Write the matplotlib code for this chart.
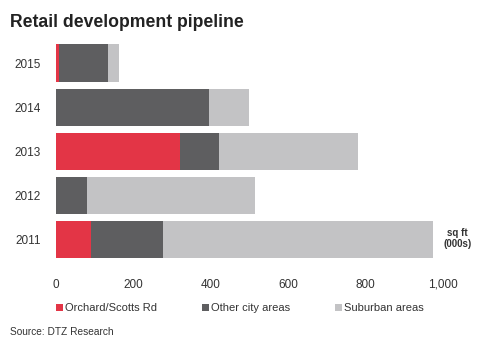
import matplotlib
matplotlib.use("Agg")
import matplotlib.pyplot as plt
from matplotlib.patches import Patch
from matplotlib import font_manager

# Retail development pipeline, thousands of sq ft
years = ["2011", "2012", "2013", "2014", "2015"]
orchard = [90, 0, 320, 0, 8]
other_city = [186, 81, 101, 394, 126]
suburban = [697, 432, 360, 105, 30]
series_names = ["Orchard/Scotts Rd", "Other city areas", "Suburban areas"]
x_ticks = [0, 200, 400, 600, 800, 1000]
x_tick_labels = ["0", "200", "400", "600", "800", "1,000"]

names = {f.name for f in font_manager.fontManager.ttflist}
base = "Liberation Sans" if "Liberation Sans" in names else "DejaVu Sans"
plt.rcParams["font.family"] = [base, "DejaVu Sans"]

colors = ["#e33546", "#5e5e60", "#c3c3c5"]
text_color = "#333333"

fig = plt.figure(figsize=(4.8, 3.38), dpi=100)
ax = fig.add_axes([0.1167, 0.225, 0.8063, 0.654])

y = range(len(years))
left = [0] * len(years)
for vals, c in zip([orchard, other_city, suburban], colors):
    ax.barh(y, vals, left=left, height=0.84, color=c, edgecolor="none")
    left = [l + v for l, v in zip(left, vals)]

ax.set_xlim(0, 1000)
ax.set_ylim(-0.5, 4.5)
ax.set_yticks(list(y))
ax.set_yticklabels(years, fontsize=8.5, color=text_color)
ax.set_xticks(x_ticks)
ax.set_xticklabels(x_tick_labels, fontsize=8.5, color=text_color)
ax.tick_params(axis="x", length=0, pad=12)
ax.tick_params(axis="y", length=0, pad=11)
for s in ax.spines.values():
    s.set_visible(False)

fig.text(0.021, 0.932, "Retail development pipeline", fontsize=12.7,
         fontweight="bold", color="#222222", va="center", ha="left")

fig.text(0.953, 0.295, "sq ft\n(000s)", fontsize=7, fontweight="bold",
         color=text_color, ha="center", va="center", linespacing=1.1)

handles = [Patch(facecolor=c, edgecolor="none") for c in colors]
leg = fig.legend(handles, series_names, loc="center", bbox_to_anchor=(0.5, 0.088),
                 ncol=3, frameon=False, handlelength=0.6, handleheight=0.6,
                 handletextpad=0.25, columnspacing=4.0,
                 prop={"size": 8})
for t in leg.get_texts():
    t.set_color(text_color)

fig.text(0.021, 0.017, "Source: DTZ Research", fontsize=7.3,
         color=text_color, ha="left", va="center")

fig.savefig("out.png", dpi=100)
